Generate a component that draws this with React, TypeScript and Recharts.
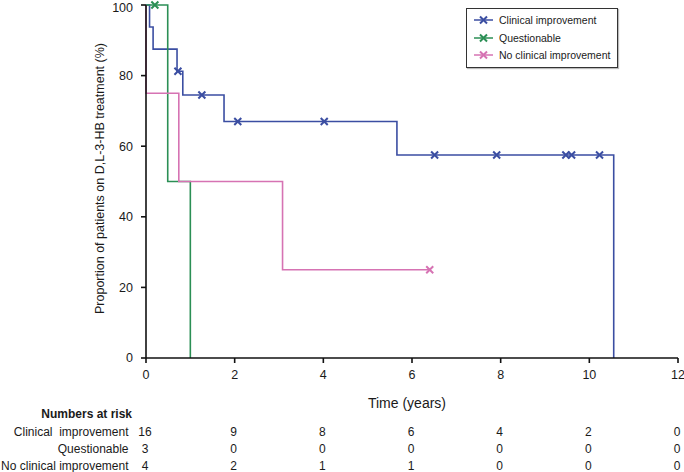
import { LineChart, Line, XAxis, YAxis } from "recharts";

const BLUE = "#3b4ea2";
const GREEN = "#2b8f55";
const PINK = "#d673b3";
const FONT = '"Liberation Sans", Arial, Helvetica, sans-serif';

// time (years), proportion (%), c = censored
const clinical = [
  { t: 0, p: 100 },
  { t: 0.08, p: 93.75 },
  { t: 0.16, p: 87.5 },
  { t: 0.7, p: 81.25 },
  { t: 0.72, p: 81.25, c: true },
  { t: 0.83, p: 74.5 },
  { t: 1.26, p: 74.5, c: true },
  { t: 1.76, p: 67 },
  { t: 2.07, p: 67, c: true },
  { t: 4.02, p: 67, c: true },
  { t: 5.66, p: 57.5 },
  { t: 6.51, p: 57.5, c: true },
  { t: 7.91, p: 57.5, c: true },
  { t: 9.47, p: 57.5, c: true },
  { t: 9.6, p: 57.5, c: true },
  { t: 10.23, p: 57.5, c: true },
  { t: 10.55, p: 0 },
];

const questionable = [
  { t: 0, p: 100 },
  { t: 0.2, p: 100, c: true },
  { t: 0.49, p: 50 },
  { t: 1.0, p: 0 },
];

const noClinical = [
  { t: 0, p: 100 },
  { t: 0, p: 75 },
  { t: 0.74, p: 50 },
  { t: 3.08, p: 25 },
  { t: 6.4, p: 25, c: true },
];

const xTicks = [0, 2, 4, 6, 8, 10, 12];
const yTicks = [0, 20, 40, 60, 80, 100];

const riskClinical = [16, 9, 8, 6, 4, 2, 0];
const riskQuestionable = [3, 0, 0, 0, 0, 0, 0];
const riskNoClinical = [4, 2, 1, 1, 0, 0, 0];
const riskLabels = ["Clinical  improvement", "Questionable", "No clinical improvement"];

const seriesNames = ["Clinical improvement", "Questionable", "No clinical improvement"];
const seriesColors = [BLUE, GREEN, PINK];

const Cross = ({ x, y, color }: { x: number; y: number; color: string }) => (
  <path
    d={`M${x - 3.5},${y - 3.5}L${x + 3.5},${y + 3.5}M${x - 3.5},${y + 3.5}L${x + 3.5},${y - 3.5}`}
    stroke={color}
    strokeWidth={2}
    fill="none"
  />
);

const censorDot = (color: string) => (props: any) => {
  const { cx, cy, payload, index } = props;
  if (!payload || !payload.c) return <g key={`d${index}`} />;
  return (
    <g key={`d${index}`}>
      <Cross x={cx} y={cy} color={color} />
    </g>
  );
};

const RiskTick = (props: any) => {
  const { x, y, payload } = props;
  const i = xTicks.indexOf(payload.value);
  const rows = [riskClinical, riskQuestionable, riskNoClinical];
  const rowY = [y + 65, y + 82.5, y + 99];
  const txt = { fontFamily: FONT, fontSize: 12, fill: "#1a1a1a" };
  return (
    <g>
      <text x={x} y={y + 8.5} textAnchor="middle" {...txt} fontSize={12.5}>
        {payload.value}
      </text>
      {rows.map((r, k) => (
        <text key={k} x={x - 1} y={rowY[k]} textAnchor="middle" {...txt}>
          {r[i]}
        </text>
      ))}
      {payload.value === 0 && (
        <g>
          <text x={x - 14} y={y + 47.5} textAnchor="end" {...txt} fontWeight="bold">
            Numbers at risk
          </text>
          {riskLabels.map((l, k) => (
            <text key={k} x={x - 17.5} y={rowY[k]} textAnchor="end" {...txt} style={{ whiteSpace: "pre" }}>
              {l}
            </text>
          ))}
        </g>
      )}
    </g>
  );
};

const LegendBox = () => (
  <div
    style={{
      position: "absolute",
      left: 466,
      top: 8,
      border: "1px solid #333",
      background: "#fff",
      width: 150,
      padding: "2px 0 3px 0",
      fontFamily: FONT,
      fontSize: 10.5,
      color: "#1a1a1a",
      boxShadow: "1px 1px 1px #bbb",
    }}
  >
    {seriesNames.map((n, k) => (
      <div key={n} style={{ display: "flex", alignItems: "center", height: 17.8 }}>
        <svg width={32} height={12} style={{ flex: "none" }}>
          <line x1={7} y1={6} x2={26} y2={6} stroke={seriesColors[k]} strokeWidth={1.5} />
          <Cross x={16.5} y={6} color={seriesColors[k]} />
        </svg>
        <span>{n}</span>
      </div>
    ))}
  </div>
);

export default function App() {
  return (
    <div style={{ position: "absolute", left: 0, top: 0, width: 684, height: 472, background: "#fff" }}>
      <LineChart width={684} height={472} margin={{ top: 5, right: 6, bottom: 0, left: 54 }}>
        <XAxis
          type="number"
          dataKey="t"
          domain={[0, 12]}
          ticks={xTicks}
          interval={0}
          height={114}
          tickSize={5}
          tickMargin={7.5}
          axisLine={{ stroke: "#111", strokeWidth: 1.6 }}
          tickLine={{ stroke: "#111", strokeWidth: 1.6 }}
          tick={<RiskTick />}
          label={{
            value: "Time (years)",
            position: "insideTop",
            offset: 40,
            dx: -5,
            style: { fontFamily: FONT, fontSize: 14, fill: "#1a1a1a" },
          }}
        />
        <YAxis
          type="number"
          domain={[0, 100]}
          ticks={yTicks}
          width={92}
          tickSize={5}
          tickMargin={8}
          axisLine={{ stroke: "#111", strokeWidth: 1.6 }}
          tickLine={{ stroke: "#111", strokeWidth: 1.6 }}
          tick={{ fontFamily: FONT, fontSize: 12.5, fill: "#1a1a1a" }}
          label={{
            value: "Proportion of patients on D,L-3-HB treatment (%)",
            angle: -90,
            position: "center",
            dy: -3,
            style: { fontFamily: FONT, fontSize: 12.5, fill: "#1a1a1a", textAnchor: "middle" },
          }}
        />
        <Line
          data={clinical}
          dataKey="p"
          name={seriesNames[0]}
          type="stepAfter"
          stroke={BLUE}
          strokeWidth={1.6}
          dot={censorDot(BLUE)}
          activeDot={false}
          isAnimationActive={false}
        />
        <Line
          data={questionable}
          dataKey="p"
          name={seriesNames[1]}
          type="stepAfter"
          stroke={GREEN}
          strokeWidth={1.6}
          dot={censorDot(GREEN)}
          activeDot={false}
          isAnimationActive={false}
        />
        <Line
          data={noClinical}
          dataKey="p"
          name={seriesNames[2]}
          type="stepAfter"
          stroke={PINK}
          strokeWidth={1.6}
          dot={censorDot(PINK)}
          activeDot={false}
          isAnimationActive={false}
        />
      </LineChart>
      <LegendBox />
    </div>
  );
}
